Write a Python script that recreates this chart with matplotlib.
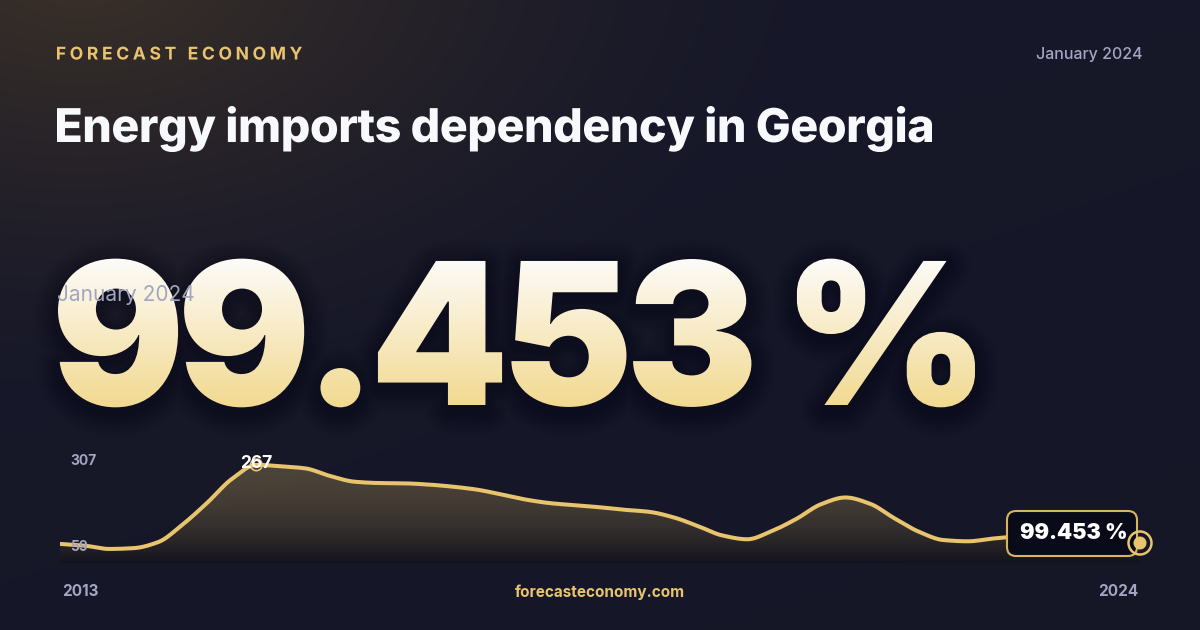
import numpy as np
import matplotlib
matplotlib.use("Agg")
import matplotlib.pyplot as plt
from matplotlib.textpath import TextPath, TextToPath
from matplotlib.font_manager import FontProperties
from matplotlib.patches import PathPatch, FancyBboxPatch, Circle
from matplotlib.path import Path
from matplotlib.transforms import Affine2D
from matplotlib.colors import to_rgb

# quarterly readings, Jan 2013 .. Jan 2024 (%)
values = [99.5, 95.8, 88.8, 90.5, 103.3, 140.8, 186.8, 237.1, 267.0, 264.0,
          259.5, 243.5, 231.3, 228.5, 227.9, 225.3, 220.8, 214.4, 204.1, 193.2,
          185.7, 181.4, 177.1, 171.8, 167.5, 155.7, 137.1, 117.2, 109.3, 126.8,
          152.5, 183.5, 197.9, 184.6, 153.6, 125.1, 107.6, 105.0, 110.8, 115.0,
          110.0, 104.0, 102.0, 100.0, 99.453]
start_year, end_year = 2013, 2024
y_min, y_max = 59, 307
latest = "99.453 %"
period = "January 2024"
title = "Energy imports dependency in Georgia"
brand = "FORECAST ECONOMY"
site = "forecasteconomy.com"

GOLD = "#e8c46e"
GREY = "#a3a5c2"
BG = "#171829"
FONT = ["Inter", "DejaVu Sans"]

W, H = 1200, 630
fig = plt.figure(figsize=(12, 6.3), dpi=100)

# background: full-figure axes in pixel coords (y down)
bg = fig.add_axes([0, 0, 1, 1])
bg.set_xlim(0, W)
bg.set_ylim(H, 0)
bg.axis("off")
yy, xx = np.mgrid[0:H, 0:W]
base = np.array(to_rgb(BG))
base_dark = np.array(to_rgb("#111221"))
warm = np.array(to_rgb("#3b3129"))
t = np.clip(yy / H * 0.6 + xx / W * 0.4, 0, 1)[..., None]
img = base * (1 - t * 0.3) + base_dark * t * 0.3
d = np.sqrt(((xx - 80) / 750.0) ** 2 + ((yy + 30) / 450.0) ** 2)
g = np.clip(1 - d, 0, 1)[..., None] ** 1.5
img = img * (1 - g) + warm * g
bg.imshow(img, extent=(0, W, H, 0), aspect="auto", zorder=0)


def text_path(s, fp, track_em):
    ttp = TextToPath()
    size = fp.get_size_in_points()
    parts, x = [], 0.0
    for ch in s:
        if ch.strip():
            parts.append(TextPath((x, 0), ch, prop=fp))
        x += ttp.get_text_width_height_descent(ch, fp, ismath=False)[0] + track_em * size
    return Path.make_compound_path(*parts)


def place(p, x0, baseline, target_w=None, scale=1.0):
    ext = p.get_extents()
    if target_w is not None:
        scale = target_w / ext.width
    tr = Affine2D().translate(-ext.x0, 0).scale(scale, -scale).translate(x0, baseline)
    return p.transformed(tr)


def fitted_path(s, fp, x0, baseline, target_w):
    """uniform tracking so the ink spans target_w px at the given size"""
    p0 = text_path(s, fp, 0)
    track = (target_w - p0.get_extents().width) / (len(s) - 1) / fp.get_size_in_points()
    return place(text_path(s, fp, track), x0, baseline)


# header
fp_brand = FontProperties(family=FONT, weight="bold", size=17.5)
bg.add_patch(PathPatch(fitted_path(brand, fp_brand, 57, 59.5, 245),
                       facecolor=GOLD, edgecolor="none", zorder=5))
bg.text(1143, 54, period, ha="right", va="center", color=GREY, fontsize=11.5,
        family=FONT, fontweight="medium", zorder=5)
fp_title = FontProperties(family=FONT, weight=800, size=48)
title_p = place(text_path(title, fp_title, -0.01), 57, 142, target_w=875)
bg.add_patch(PathPatch(title_p, facecolor="#f8f9fc", edgecolor="none", zorder=5))

# big number with vertical gradient fill and soft shadow
fp_big = FontProperties(family=FONT, weight="black", size=198)
big = fitted_path(latest, fp_big, 58, 405, 917)
sh = big.transformed(Affine2D().translate(0, 5))
for k in range(10):
    bg.add_patch(PathPatch(sh, facecolor="none", edgecolor="#05050c", lw=6 + 3.2 * k,
                           alpha=0.022, joinstyle="round", zorder=2))
patch = PathPatch(big, facecolor="none", edgecolor="none", zorder=3)
bg.add_patch(patch)
top_c = np.array(to_rgb("#fdfcfa"))
bot_c = np.array(to_rgb("#f2d98f"))
gy = np.linspace(0, 1, 256)[:, None, None]
grad = np.repeat(top_c * (1 - gy) + bot_c * gy, 2, axis=1)
bx = big.get_extents()
gi = bg.imshow(grad, extent=(bx.x0 - 5, bx.x1 + 5, bx.y1 + 2, bx.y0 - 2), aspect="auto", zorder=3)
gi.set_clip_path(patch)
bg.text(57, 295, period, ha="left", va="center", color=GREY, fontsize=15,
        family=FONT, zorder=6)

# sparkline
ax = fig.add_axes([60 / W, (H - 563) / H, 1080 / W, (563 - 446) / H])
ax.set_xlim(start_year, end_year)
ax.set_ylim(y_min, y_max)
ax.axis("off")
ax.patch.set_alpha(0)
x = np.linspace(start_year, end_year, len(values))
v = np.array(values)


def monotone(xs, ys, n=800):
    h = np.diff(xs)
    dl = np.diff(ys) / h
    m = np.zeros_like(ys)
    m[0], m[-1] = dl[0], dl[-1]
    for i in range(1, len(ys) - 1):
        if dl[i - 1] * dl[i] > 0:
            m[i] = 2 / (1 / dl[i - 1] + 1 / dl[i])
    xf = np.linspace(xs[0], xs[-1], n)
    idx = np.clip(np.searchsorted(xs, xf) - 1, 0, len(xs) - 2)
    s = (xf - xs[idx]) / h[idx]
    h00 = 2 * s**3 - 3 * s**2 + 1
    h10 = s**3 - 2 * s**2 + s
    h01 = -2 * s**3 + 3 * s**2
    h11 = s**3 - s**2
    yf = h00 * ys[idx] + h10 * h[idx] * m[idx] + h01 * ys[idx + 1] + h11 * h[idx] * m[idx + 1]
    return xf, yf


xs, ys = monotone(x, v)
fill = ax.fill_between(xs, ys, y_min, color="none", lw=0)
fg = np.zeros((256, 2, 4))
gold = np.array(to_rgb(GOLD))
dark = np.array(to_rgb("#121118"))
for i, a in enumerate(np.linspace(0, 1, 256)):
    fg[i, :, :3] = gold * (1 - a) + dark * a
    fg[i, :, 3] = 0.26 * (1 - a) + 0.55 * a
fi = ax.imshow(fg, extent=(start_year, end_year, y_min, 280), aspect="auto", zorder=1)
fi.set_clip_path(fill.get_paths()[0], transform=ax.transData)
ax.set_xlim(start_year, end_year)
ax.set_ylim(y_min, y_max)
ax.plot(xs, ys, color=GOLD, lw=2.9, zorder=3, solid_capstyle="round")

imax = int(np.argmax(v))
ax.scatter([x[imax]], [v[imax]], s=70, facecolor="none", edgecolor=GOLD, lw=1.2, zorder=4)
ax.text(x[imax], v[imax] + 2, f"{v[imax]:.0f}", ha="center", va="center", color="white",
        fontsize=12.5, fontweight="bold", family=FONT, zorder=5)

# overlay for the latest value box and labels
ax.set_zorder(1)
over = fig.add_axes([0, 0, 1, 1])
over.set_xlim(0, W)
over.set_ylim(H, 0)
over.axis("off")
over.set_zorder(2)
over.add_patch(FancyBboxPatch((1007, 511), 130, 45, boxstyle="round,pad=0,rounding_size=9",
                              facecolor="#0a0b19", edgecolor="#d8b460", lw=1.5))
over.text(1074, 533, latest, ha="center", va="center", color="white", fontsize=15.5,
          fontweight="black", family=FONT)
over.add_patch(Circle((1140, 543), 11.5, facecolor="none", edgecolor=GOLD, lw=1.8))
over.add_patch(Circle((1140, 543), 6.5, facecolor=GOLD, edgecolor="none"))

kw = dict(color=GREY, fontsize=10, fontweight="bold", family=FONT, va="center")
over.text(70, 461, f"{y_max}", ha="left", **kw)
over.text(70, 547, f"{y_min}", ha="left", **kw)
kw["fontsize"] = 11
over.text(62, 592, str(start_year), ha="left", **kw)
over.text(1138, 592, str(end_year), ha="right", **kw)
over.text(600, 592, site, ha="center", va="center", color=GOLD, fontsize=11,
          fontweight="bold", family=FONT)

fig.savefig("out.png", dpi=100)
